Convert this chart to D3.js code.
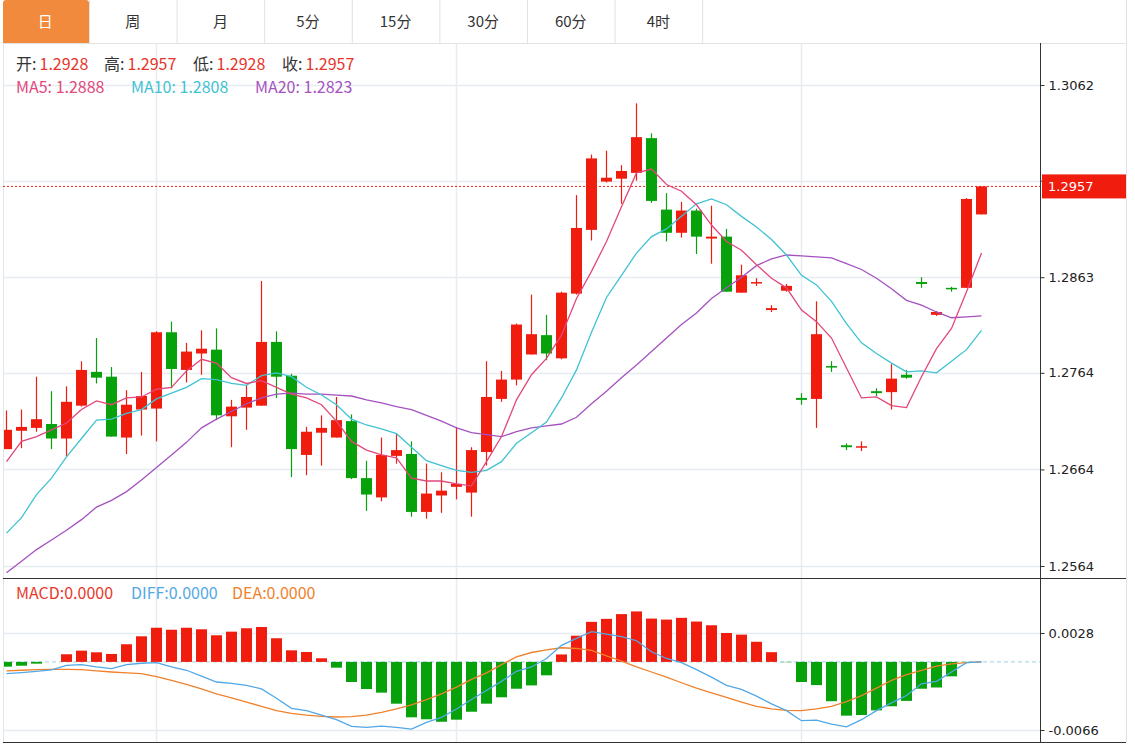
<!DOCTYPE html>
<html><head><meta charset="utf-8">
<script src="https://cdn.jsdelivr.net/npm/d3@7"></script>
<style>
html,body{margin:0;padding:0;background:#fff;overflow:hidden;}
svg{display:block;font-family:"Microsoft YaHei","Noto Sans CJK SC","Noto Sans",sans-serif;}
</style></head><body>
<svg id="chart" width="1135" height="744"></svg>
<script>
// ---------- data ----------
const tabs = ["日","周","月","5分","15分","30分","60分","4时"];
const opens  = [1.2685,1.2704,1.2707,1.2711,1.2696,1.2730,1.2765,1.2760,1.2697,1.2726,1.2727,1.2806,1.2767,1.2784,1.2788,1.2719,1.2728,1.2730,1.2796,1.2761,1.2679,1.2702,1.2697,1.2714,1.2655,1.2635,1.2678,1.2680,1.2620,1.2637,1.2646,1.2640,1.2682,1.2737,1.2757,1.2783,1.2803,1.2779,1.2846,1.2912,1.2962,1.2965,1.2971,1.3007,1.2933,1.2909,1.2932,1.2903,1.2905,1.2847,1.2857,1.2829,1.2849,1.2738,1.2737,1.2771,1.2689,1.2687,1.2745,1.2744,1.2762,1.2858,1.2824,1.2852,1.2852,1.2928];
const highs  = [1.2725,1.2726,1.2760,1.2745,1.2750,1.2776,1.2800,1.2770,1.2746,1.2765,1.2807,1.2817,1.2795,1.2808,1.2810,1.2736,1.2751,1.2859,1.2807,1.2763,1.2708,1.2720,1.2739,1.2721,1.2673,1.2697,1.2701,1.2693,1.2670,1.2661,1.2708,1.2687,1.2776,1.2766,1.2815,1.2845,1.2824,1.2848,1.2948,1.2990,1.2994,1.2979,1.3043,1.3012,1.2950,1.2941,1.2934,1.2937,1.2913,1.2876,1.2862,1.2834,1.2856,1.2743,1.2838,1.2776,1.2691,1.2693,1.2748,1.2773,1.2767,1.2863,1.2828,1.2853,1.2945,1.2957];
const lows   = [1.2685,1.2686,1.2703,1.2685,1.2678,1.2729,1.2753,1.2698,1.2680,1.2699,1.2693,1.2748,1.2754,1.2762,1.2715,1.2687,1.2705,1.2730,1.2738,1.2656,1.2658,1.2668,1.2697,1.2654,1.2621,1.2631,1.2670,1.2615,1.2613,1.2619,1.2633,1.2615,1.2668,1.2734,1.2751,1.2783,1.2777,1.2778,1.2845,1.2901,1.2961,1.2939,1.2963,1.2940,1.2900,1.2904,1.2887,1.2877,1.2848,1.2847,1.2854,1.2827,1.2848,1.2731,1.2707,1.2765,1.2684,1.2683,1.2740,1.2726,1.2758,1.2852,1.2823,1.2848,1.2852,1.2928];
const closes = [1.2705,1.2708,1.2716,1.2696,1.2734,1.2767,1.2759,1.2698,1.2731,1.2740,1.2806,1.2768,1.2786,1.2789,1.2720,1.2729,1.2739,1.2796,1.2760,1.2685,1.2703,1.2707,1.2715,1.2655,1.2638,1.2679,1.2684,1.2620,1.2639,1.2642,1.2649,1.2684,1.2739,1.2757,1.2814,1.2804,1.2784,1.2847,1.2914,1.2986,1.2966,1.2973,1.3008,1.2942,1.2909,1.2932,1.2905,1.2905,1.2848,1.2865,1.2858,1.2831,1.2854,1.2736,1.2804,1.2770,1.2687,1.2688,1.2743,1.2758,1.2759,1.2856,1.2827,1.2851,1.2944,1.2957];
const ma5  = [1.2672,1.2693,1.2698,1.2705,1.2712,1.2726,1.2735,1.2731,1.2738,1.2739,1.2747,1.2749,1.2766,1.2778,1.2774,1.2759,1.2753,1.2756,1.2749,1.2742,1.2738,1.2731,1.2714,1.2693,1.2684,1.2679,1.2676,1.2655,1.2652,1.2652,1.2649,1.2647,1.2672,1.2698,1.2736,1.2762,1.2779,1.2803,1.2841,1.2869,1.2900,1.2936,1.2971,1.2975,1.2959,1.2952,1.2938,1.2917,1.2900,1.2891,1.2876,1.2862,1.2852,1.2829,1.2817,1.2800,1.2769,1.2738,1.2739,1.2730,1.2728,1.2760,1.2789,1.2810,1.2848,1.2888];
const ma10 = [1.2598,1.2614,1.2638,1.2655,1.2677,1.2696,1.2715,1.2716,1.2722,1.2726,1.2737,1.2743,1.2749,1.2758,1.2757,1.2753,1.2751,1.2761,1.2764,1.2760,1.2749,1.2741,1.2731,1.2716,1.2710,1.2706,1.2701,1.2687,1.2673,1.2668,1.2663,1.2661,1.2663,1.2672,1.2691,1.2702,1.2713,1.2738,1.2767,1.2806,1.2842,1.2865,1.2888,1.2905,1.2913,1.2926,1.2939,1.2944,1.2938,1.2926,1.2915,1.2902,1.2886,1.2865,1.2855,1.2838,1.2815,1.2795,1.2784,1.2774,1.2765,1.2766,1.2764,1.2776,1.2788,1.2808];
const ma20 = [1.2557,1.2569,1.2581,1.2591,1.2601,1.2612,1.2625,1.2632,1.2641,1.2653,1.2666,1.2679,1.2692,1.2707,1.2716,1.2724,1.2732,1.2738,1.2742,1.2743,1.2742,1.2742,1.2741,1.2740,1.2736,1.2733,1.2729,1.2726,1.2720,1.2714,1.2707,1.2702,1.2700,1.2698,1.2703,1.2707,1.2709,1.2711,1.2718,1.2732,1.2745,1.2759,1.2772,1.2786,1.2800,1.2814,1.2826,1.2841,1.2852,1.2863,1.2875,1.2882,1.2886,1.2885,1.2884,1.2883,1.2877,1.2871,1.2862,1.2851,1.2839,1.2834,1.2827,1.2821,1.2822,1.2823];
const macdHist = [-0.00046,-0.00037,-0.00017,0,0.00074,0.00109,0.00093,0.00077,0.00171,0.00248,0.00331,0.00312,0.00331,0.00316,0.00258,0.00293,0.00326,0.00338,0.00229,0.00112,0.00096,0.00035,-0.00056,-0.00195,-0.00263,-0.00298,-0.00405,-0.00537,-0.00556,-0.00580,-0.00560,-0.00483,-0.00405,-0.00343,-0.00260,-0.00228,-0.00130,0.00072,0.00254,0.00388,0.00417,0.00463,0.00489,0.00420,0.00410,0.00427,0.00391,0.00355,0.00280,0.00264,0.00195,0.00094,-0.00003,-0.00195,-0.00225,-0.00381,-0.00521,-0.00515,-0.00470,-0.00430,-0.00378,-0.00260,-0.00248,-0.00140,-0.00002,0];
const diffLine = [-0.00114,-0.00104,-0.00091,-0.00078,-0.00033,-0.00026,-0.00049,-0.00065,-0.00026,-0.00013,-0.00007,-0.00049,-0.00081,-0.00137,-0.00195,-0.00208,-0.00228,-0.00261,-0.00352,-0.00450,-0.00472,-0.00515,-0.00560,-0.00625,-0.00635,-0.00622,-0.00635,-0.00651,-0.00586,-0.00537,-0.00456,-0.00365,-0.00277,-0.00189,-0.00091,-0.00049,0.00033,0.00160,0.00228,0.00293,0.00270,0.00244,0.00205,0.00098,0.00033,-0.00007,-0.00075,-0.00147,-0.00228,-0.00267,-0.00332,-0.00407,-0.00472,-0.00570,-0.00564,-0.00603,-0.00629,-0.00560,-0.00472,-0.00397,-0.00326,-0.00212,-0.00189,-0.00098,-0.00007,0];
const deaLine = [-0.00088,-0.00081,-0.00075,-0.00072,-0.00072,-0.00075,-0.00088,-0.00098,-0.00107,-0.00114,-0.00143,-0.00179,-0.00218,-0.00261,-0.00309,-0.00349,-0.00391,-0.00430,-0.00472,-0.00498,-0.00515,-0.00528,-0.00534,-0.00531,-0.00515,-0.00489,-0.00456,-0.00417,-0.00365,-0.00309,-0.00244,-0.00169,-0.00107,-0.00026,0.00049,0.00091,0.00117,0.00137,0.00130,0.00111,0.00059,0.00007,-0.00049,-0.00098,-0.00147,-0.00202,-0.00254,-0.00300,-0.00345,-0.00391,-0.00430,-0.00456,-0.00469,-0.00472,-0.00456,-0.00430,-0.00384,-0.00326,-0.00254,-0.00179,-0.00124,-0.00081,-0.00042,-0.00020,-0.00007,0];
const priceTicks = [1.3062,1.2963,1.2863,1.2764,1.2664,1.2564];
const macdTicks = [0.0028,-0.0066];
const gridIndices = [10,30,53];
const lastPrice = 1.2957;
const ohlcLabels = ["开:","高:","低:","收:"];
const ohlcValues = ["1.2928","1.2957","1.2928","1.2957"];
const maLabels = ["MA5: 1.2888","MA10: 1.2808","MA20: 1.2823"];
const macdLabels = ["MACD:0.0000","DIFF:0.0000","DEA:0.0000"];

// ---------- layout ----------
const L = 3, AX = 1040, R = 1126;
const TOP = 43, MAIN_B = 578, MACD_B = 742;
const UP = "#f01c0e", DOWN = "#06a10b";
const C_MA5 = "#e2487c", C_MA10 = "#3fc2d2", C_MA20 = "#a552c0";
const C_DIFF = "#52a8e6", C_DEA = "#f0812c";
const GRID = "#e6ecf2";

const svg = d3.select("#chart");
const n = opens.length;
const x = d3.scaleLinear().domain([0, n-1]).range([6.5, 6.5 + 15*(n-1)]);
const y = d3.scaleLinear().domain([1.2564, 1.3062]).range([566, 85]);
const ym = d3.scaleLinear().domain([-0.0066, 0.0028]).range([730, 633]);
const bw = 11;

// tabs
const tabW = 87.6;
const tabG = svg.append("g");
tabG.append("path")
  .attr("d", `M${L},${TOP} V3 Q${L},0 ${L+3},0 H${89-3} Q89,0 89,3 V${TOP} Z`)
  .attr("fill", "#f18a3d");
tabs.forEach((t, k) => {
  const sx = 89 + tabW*k;
  tabG.append("line").attr("x1", sx+0.5).attr("x2", sx+0.5).attr("y1", 0).attr("y2", TOP)
    .attr("stroke", "#e2e2e2");
  tabG.append("text").attr("x", sx - tabW/2).attr("y", 27)
    .attr("text-anchor", "middle").attr("font-size", 15)
    .attr("fill", k === 0 ? "#fff" : "#333").text(t);
});
svg.append("line").attr("x1", L).attr("x2", R).attr("y1", TOP+0.5).attr("y2", TOP+0.5).attr("stroke", "#e2e2e2");

// borders
svg.append("line").attr("x1", L+0.5).attr("x2", L+0.5).attr("y1", TOP).attr("y2", MACD_B).attr("stroke", "#e2e6ea");
svg.append("line").attr("x1", R+0.5).attr("x2", R+0.5).attr("y1", 0).attr("y2", MACD_B).attr("stroke", "#e2e2e2");

// clip paths
const defs = svg.append("defs");
defs.append("clipPath").attr("id", "cm").append("rect").attr("x", L+1).attr("y", TOP+1).attr("width", AX-L-1).attr("height", MAIN_B-TOP-1);
defs.append("clipPath").attr("id", "cd").append("rect").attr("x", L+1).attr("y", MAIN_B+1).attr("width", AX-L-1).attr("height", MACD_B-MAIN_B-1);

// grid
const gm = svg.append("g");
priceTicks.forEach(t => {
  const yy = Math.round(y(t)) + 0.5;
  gm.append("line").attr("x1", L).attr("x2", AX).attr("y1", yy).attr("y2", yy).attr("stroke", GRID).attr("stroke-width", 1.5);
});
gridIndices.forEach(i => {
  const xx = x(i);
  gm.append("line").attr("x1", xx).attr("x2", xx).attr("y1", TOP).attr("y2", MACD_B).attr("stroke", GRID).attr("stroke-width", 1.5);
});
macdTicks.forEach(t => {
  const yy = Math.round(ym(t)) + 0.5;
  gm.append("line").attr("x1", L).attr("x2", AX).attr("y1", yy).attr("y2", yy).attr("stroke", GRID).attr("stroke-width", 1.5);
});

// legend
const lg = svg.append("g").attr("font-size", 16);
const lblX = [16, 104, 193, 282];
ohlcLabels.forEach((t, k) => {
  lg.append("text").attr("x", lblX[k]).attr("y", 70).attr("fill", "#333").text(t);
  lg.append("text").attr("x", lblX[k] + 23.5).attr("y", 70).attr("fill", "#e8342a").text(ohlcValues[k]);
});
const maX = [16, 131, 255], maC = [C_MA5, C_MA10, C_MA20];
maLabels.forEach((t, k) => {
  lg.append("text").attr("x", maX[k]).attr("y", 93).attr("fill", maC[k]).text(t);
});

// last price dotted line
svg.append("line").attr("x1", L).attr("x2", AX).attr("y1", y(lastPrice)).attr("y2", y(lastPrice))
  .attr("stroke", "#e8241a").attr("stroke-width", 1).attr("stroke-dasharray", "2,2");

// candles
const cg = svg.append("g").attr("clip-path", "url(#cm)");
for (let i = 0; i < n; i++) {
  const up = closes[i] >= opens[i];
  const col = up ? UP : DOWN;
  const xc = x(i);
  cg.append("line").attr("x1", xc).attr("x2", xc).attr("y1", y(highs[i])).attr("y2", y(lows[i]))
    .attr("stroke", col).attr("stroke-width", 1.2);
  const yt = y(Math.max(opens[i], closes[i])), yb = y(Math.min(opens[i], closes[i]));
  cg.append("rect").attr("x", xc - bw/2).attr("y", yt).attr("width", bw).attr("height", Math.max(1.5, yb - yt))
    .attr("fill", col);
}

// MA lines
const line = d3.line().x((d, i) => x(i)).y(d => y(d));
[[ma20, C_MA20], [ma10, C_MA10], [ma5, C_MA5]].forEach(([arr, c]) => {
  cg.append("path").attr("d", line(arr)).attr("fill", "none").attr("stroke", c).attr("stroke-width", 1.3);
});

// MACD panel
const mg = svg.append("g").attr("clip-path", "url(#cd)");
mg.append("line").attr("x1", L).attr("x2", AX).attr("y1", ym(0)).attr("y2", ym(0))
  .attr("stroke", "#9ccfe6").attr("stroke-dasharray", "4,3");
macdHist.forEach((v, i) => {
  const y0 = ym(0), y1 = ym(v);
  mg.append("rect").attr("x", x(i) - bw/2).attr("y", Math.min(y0, y1)).attr("width", bw)
    .attr("height", Math.max(0, Math.abs(y1 - y0))).attr("fill", v >= 0 ? UP : DOWN);
});
const mline = d3.line().x((d, i) => x(i)).y(d => ym(d));
mg.append("path").attr("d", mline(deaLine)).attr("fill", "none").attr("stroke", C_DEA).attr("stroke-width", 1.3);
mg.append("path").attr("d", mline(diffLine)).attr("fill", "none").attr("stroke", C_DIFF).attr("stroke-width", 1.3);

const mlX = [16, 131, 232], mlC = ["#e8382c", C_DIFF, C_DEA];
macdLabels.forEach((t, k) => {
  svg.append("text").attr("x", mlX[k]).attr("y", 599).attr("font-size", 16).attr("fill", mlC[k]).text(t);
});

// frame lines
svg.append("line").attr("x1", L).attr("x2", R).attr("y1", MAIN_B+0.5).attr("y2", MAIN_B+0.5).attr("stroke", "#333");
svg.append("line").attr("x1", L).attr("x2", R).attr("y1", MACD_B+0.5).attr("y2", MACD_B+0.5).attr("stroke", "#333");
svg.append("line").attr("x1", AX+0.5).attr("x2", AX+0.5).attr("y1", TOP).attr("y2", MACD_B).attr("stroke", "#333");

// axes (the tick label hidden under the last-price tag is not printed)
const axisFont = "'DejaVu Sans', Verdana, sans-serif";
const fmt = v => d3.format(".4f")(v).replace("\u2212", "-");
const ay = svg.append("g").attr("transform", `translate(${AX+0.5},0)`)
  .call(d3.axisRight(y).tickValues(priceTicks).tickSize(4).tickPadding(4)
    .tickFormat(d => Math.abs(y(d) - y(lastPrice)) < 14 ? "" : fmt(d)));
ay.select(".domain").remove();
ay.selectAll("text").attr("font-family", axisFont).attr("font-size", 13).attr("fill", "#222");
ay.selectAll("line").attr("stroke", "#333");

const am = svg.append("g").attr("transform", `translate(${AX+0.5},0)`)
  .call(d3.axisRight(ym).tickValues(macdTicks).tickSize(4).tickPadding(4).tickFormat(fmt));
am.select(".domain").remove();
am.selectAll("text").attr("font-family", axisFont).attr("font-size", 13).attr("fill", "#222");
am.selectAll("line").attr("stroke", "#333");

// last price label
const lp = svg.append("g");
lp.append("rect").attr("x", AX+2).attr("y", y(lastPrice) - 12).attr("width", R - AX - 2).attr("height", 24).attr("fill", "#f01c0e");
lp.append("text").attr("x", AX+8).attr("y", y(lastPrice) + 5).attr("font-family", axisFont).attr("font-size", 13)
  .attr("fill", "#fff").text(fmt(lastPrice));
</script>
</body></html>
